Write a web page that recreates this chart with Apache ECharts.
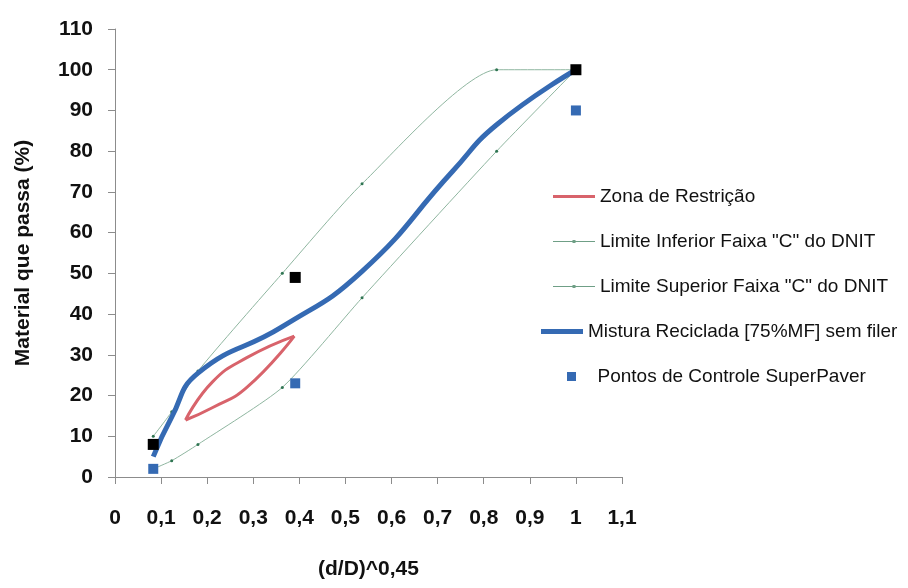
<!DOCTYPE html>
<html>
<head>
<meta charset="utf-8">
<style>
  html, body { margin: 0; padding: 0; background: #ffffff; }
  #chart { width: 908px; height: 588px; }
</style>
<script src="https://cdn.jsdelivr.net/npm/echarts@6/dist/echarts.min.js"></script>
</head>
<body>
<div id="chart"></div>
<script>
// Granulometria: abscissa (d/D)^0,45, ordinate % passante
const xTicks = { min: 0, max: 1.1, interval: 0.1 };
const yTicks = { min: 0, max: 110, interval: 10 };

// Zona de Restrição: bordas inferior e superior (fecham nas pontas)
const zonaX = [0.153, 0.211, 0.286, 0.389];
const zonaInfY = [14, 17, 22, 34.6];
const zonaSupY = [14, 23.3, 29.3, 34.6];

// Limites da Faixa "C" do DNIT
const faixaX = [0.083, 0.123, 0.18, 0.363, 0.536, 0.828, 1];
const limInferiorY = [2, 4, 8, 22, 44, 80, 100];
const limSuperiorY = [10, 16, 26, 50, 72, 100, 100];

// Mistura Reciclada [75%MF] sem filer
const misturaX = [0.083, 0.123, 0.18, 0.363, 0.536, 0.732, 0.828, 1];
const misturaY = [5, 14.7, 25.5, 36.9, 50.5, 75, 86.5, 100];

// Pontos de controle SuperPaver (mínimos e máximos)
const controleX = [0.083, 0.391, 1];
const controleMinY = [2, 23, 90];
const controleMaxY = [8, 49, 100];

const names = [
  'Zona de Restrição',
  'Limite Inferior Faixa "C" do DNIT',
  'Limite Superior Faixa "C" do DNIT',
  'Mistura Reciclada [75%MF] sem filer',
  'Pontos de Controle SuperPaver'
];

const pairs = (xs, ys) => xs.map((x, i) => [x, ys[i]]);
const FONT = '"Liberation Sans", Arial, sans-serif';
const fmt = v => String(Math.round(v * 10) / 10).replace('.', ',');

const RED = '#d8636b';
const BLUE = '#356ab3';
const GREEN_LINE = '#8fb6a0';
const GREEN_DOT = '#2f7552';

// Common look of the legend blocks on the right
const legendBase = {
  orient: 'vertical',
  itemWidth: 42,
  itemHeight: 9,
  itemGap: 26,
  symbolKeepAspect: true,
  textStyle: { fontFamily: FONT, fontSize: 19, color: '#111' }
};

const chart = echarts.init(document.getElementById('chart'), null, { renderer: 'canvas' });

chart.setOption({
  backgroundColor: '#ffffff',
  animation: false,
  grid: { left: 115, right: 286, top: 29, bottom: 111, containLabel: false, outerBoundsMode: 'none' },
  legend: [
    Object.assign({}, legendBase, {
      left: 548, top: 182,
      data: [
        { name: names[0], icon: 'path://M0,0h42v3h-42z' },
        { name: names[1], icon: 'path://M0,1h42v1h-42z M19.5,0h3v3h-3z', itemStyle: { color: '#6f9f86' } },
        { name: names[2], icon: 'path://M0,1h42v1h-42z M19.5,0h3v3h-3z', itemStyle: { color: '#6f9f86' } }
      ]
    }),
    Object.assign({}, legendBase, {
      left: 536, top: 317,
      data: [{ name: names[3], icon: 'path://M0,0h42v5h-42z' }]
    }),
    Object.assign({}, legendBase, {
      left: 562, top: 362,
      data: [{ name: names[4], icon: 'path://M0,0h9v9h-9z' }]
    })
  ],
  xAxis: {
    type: 'value',
    min: xTicks.min, max: xTicks.max, interval: xTicks.interval,
    name: '(d/D)^0,45',
    nameLocation: 'middle',
    nameGap: 82,
    nameTextStyle: { fontFamily: FONT, fontSize: 21, fontWeight: 'bold', color: '#111' },
    axisLine: { show: true, onZero: false, lineStyle: { color: '#8c8c8c', width: 1 } },
    axisTick: { show: true, length: 7, lineStyle: { color: '#8c8c8c' } },
    axisLabel: { margin: 31, fontFamily: FONT, fontSize: 21, fontWeight: 'bold', color: '#111', formatter: fmt },
    splitLine: { show: false }
  },
  yAxis: {
    type: 'value',
    min: yTicks.min, max: yTicks.max, interval: yTicks.interval,
    name: 'Material que passa (%)',
    nameLocation: 'middle',
    nameGap: 81,
    nameTextStyle: { fontFamily: FONT, fontSize: 21, fontWeight: 'bold', color: '#111' },
    axisLine: { show: true, lineStyle: { color: '#8c8c8c', width: 1 } },
    axisTick: { show: true, length: 7, lineStyle: { color: '#8c8c8c' } },
    axisLabel: { margin: 22, fontFamily: FONT, fontSize: 21, fontWeight: 'bold', color: '#111' },
    splitLine: { show: false }
  },
  series: [
    {
      name: names[0], type: 'line', smooth: 0.5,
      data: pairs(zonaX, zonaInfY),
      symbol: 'none',
      lineStyle: { color: RED, width: 3 },
      itemStyle: { color: RED },
      z: 2
    },
    {
      name: names[0], type: 'line', smooth: 0.5,
      data: pairs(zonaX, zonaSupY),
      symbol: 'none',
      lineStyle: { color: RED, width: 3 },
      itemStyle: { color: RED },
      z: 2
    },
    {
      name: names[1], type: 'line', smooth: 0.2,
      data: pairs(faixaX, limInferiorY),
      symbol: 'circle', symbolSize: 3, showSymbol: true,
      lineStyle: { color: GREEN_LINE, width: 1 },
      itemStyle: { color: GREEN_DOT },
      z: 3
    },
    {
      name: names[2], type: 'line', smooth: 0.2,
      data: pairs(faixaX, limSuperiorY),
      symbol: 'circle', symbolSize: 3, showSymbol: true,
      lineStyle: { color: GREEN_LINE, width: 1 },
      itemStyle: { color: GREEN_DOT },
      z: 3
    },
    {
      name: names[3], type: 'line', smooth: 0.5,
      data: pairs(misturaX, misturaY),
      symbol: 'none',
      lineStyle: { color: BLUE, width: 5 },
      itemStyle: { color: BLUE },
      z: 4
    },
    {
      name: names[4], type: 'scatter',
      data: pairs(controleX, controleMinY),
      symbol: 'rect', symbolSize: 10,
      itemStyle: { color: BLUE, opacity: 1 },
      z: 5
    },
    {
      name: 'Pontos de Controle (máximos)', type: 'scatter',
      data: pairs(controleX, controleMaxY),
      symbol: 'rect', symbolSize: 11,
      itemStyle: { color: '#000000', opacity: 1 },
      z: 5
    }
  ]
});
</script>
</body>
</html>
